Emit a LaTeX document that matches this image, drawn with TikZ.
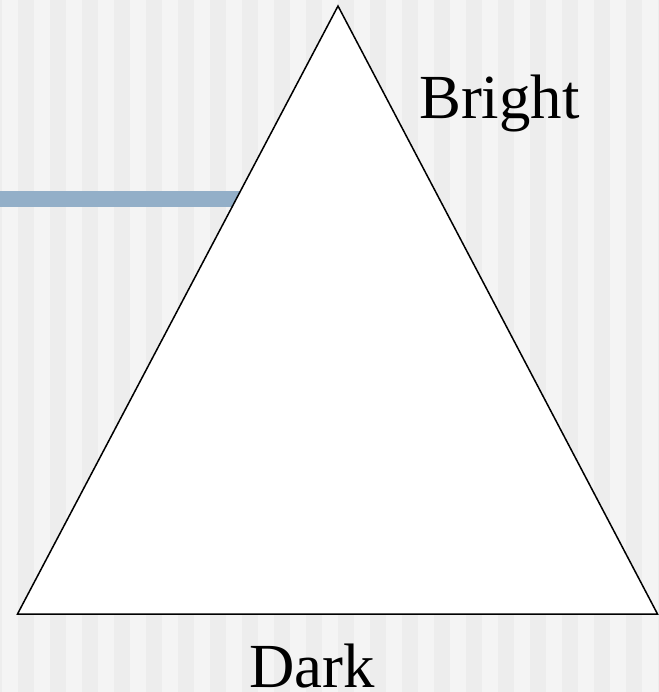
\documentclass[tikz,border=0pt]{standalone}
\usepackage{fontspec}
\setmainfont{Liberation Serif}
\definecolor{bglight}{HTML}{F4F4F4}
\definecolor{bgdark}{HTML}{EDEDED}
\definecolor{barblue}{HTML}{93AFC8}
\tikzset{
  lbl/.style={anchor=base west, inner sep=0pt, font=\fontsize{63}{70}\selectfont},
  tri/.style={draw=black, fill=white, line width=1.5bp, line join=miter}
}
\begin{document}
\begin{tikzpicture}[x=1bp,y=-1bp]
\useasboundingbox (0,0) rectangle (659,692);
\fill[bglight] (0,0) rectangle (659,692);
\foreach \i in {0,...,21} {
  \fill[bgdark] ({-14+32*\i},0) rectangle ({2+32*\i},692);
}
\fill[barblue] (0,191) rectangle (260,207);
\coordinate (apex) at (338,6);
\coordinate (bl) at (17.5,614);
\coordinate (br) at (657.5,614);
\draw[tri] (apex) -- (br) -- (bl) -- cycle;
\node[lbl] (bright) at (419,119) {Bright};
\node[lbl] (dark) at (249,687) {Dark};
\end{tikzpicture}
\end{document}
